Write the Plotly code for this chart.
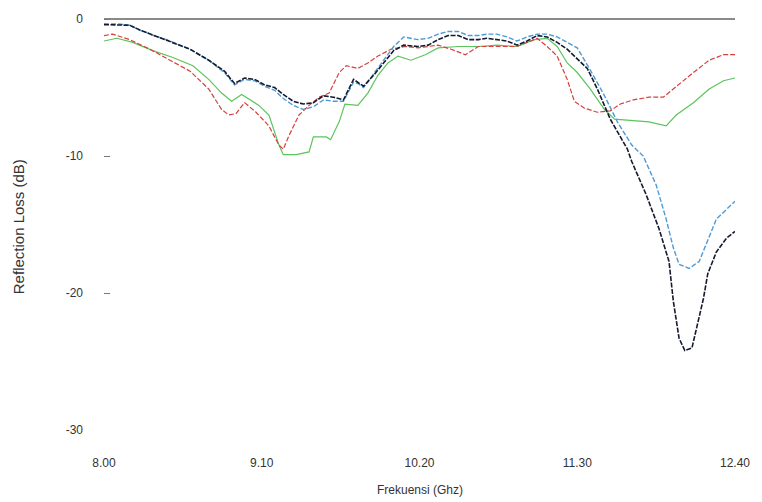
import plotly.graph_objects as go

# Frequency (GHz) / reflection loss (dB)
black_f = [8.00, 8.10, 8.18, 8.25, 8.35, 8.46, 8.60, 8.73, 8.84, 8.91, 8.98, 9.05, 9.12, 9.19, 9.25,
           9.32, 9.39, 9.46, 9.53, 9.60, 9.67, 9.74, 9.77, 9.81, 9.88, 9.95, 10.02, 10.09, 10.19, 10.26,
           10.33, 10.40, 10.47, 10.54, 10.61, 10.67, 10.74, 10.81, 10.88, 10.95, 11.02, 11.09, 11.16,
           11.23, 11.30, 11.37, 11.44, 11.53, 11.65, 11.68, 11.78, 11.87, 11.94, 11.97, 12.01, 12.05,
           12.10, 12.14, 12.18, 12.21, 12.27, 12.34, 12.40]
black_db = [-0.4, -0.4, -0.45, -0.8, -1.2, -1.6, -2.2, -3.0, -3.8, -4.7, -4.3, -4.4, -4.8, -5.0, -5.5,
            -6.0, -6.2, -6.1, -5.6, -5.7, -5.9, -4.4, -4.6, -4.9, -4.1, -3.2, -2.3, -1.9, -2.0, -1.9,
            -1.5, -1.2, -1.2, -1.5, -1.5, -1.4, -1.5, -1.6, -1.9, -1.6, -1.2, -1.3, -1.7,
            -2.2, -2.9, -3.6, -5.1, -7.3, -9.5, -10.4, -12.8, -15.3, -17.7, -20.6, -23.3, -24.2,
            -24.0, -22.2, -20.4, -18.6, -17.0, -16.0, -15.5]

blue_f = [8.00, 8.10, 8.18, 8.25, 8.35, 8.46, 8.60, 8.73, 8.84, 8.91, 8.98, 9.05, 9.12, 9.19, 9.25,
          9.32, 9.39, 9.46, 9.53, 9.60, 9.67, 9.74, 9.77, 9.81, 9.88, 9.95, 10.02, 10.09, 10.19, 10.26,
          10.33, 10.40, 10.47, 10.54, 10.61, 10.67, 10.74, 10.81, 10.88, 10.95, 11.02, 11.09, 11.16,
          11.23, 11.30, 11.39, 11.49, 11.58, 11.68, 11.76, 11.85, 11.92, 11.97, 12.01, 12.08, 12.15,
          12.21, 12.27, 12.34, 12.40]
blue_db = [-0.35, -0.35, -0.45, -0.8, -1.2, -1.6, -2.2, -3.0, -3.9, -4.8, -4.4, -4.5, -4.9, -5.2, -5.8,
           -6.3, -6.6, -6.4, -5.9, -6.0, -6.0, -4.6, -4.7, -5.0, -4.0, -3.0, -2.0, -1.3, -1.5, -1.4,
           -1.1, -0.9, -0.9, -1.2, -1.2, -1.1, -1.1, -1.3, -1.6, -1.3, -1.1, -1.1, -1.3,
           -1.7, -2.1, -3.7, -5.6, -7.5, -9.2, -10.0, -12.1, -14.6, -16.7, -17.9, -18.2, -17.7,
           -16.2, -14.6, -13.9, -13.3]

red_f = [8.00, 8.06, 8.18, 8.32, 8.46, 8.60, 8.73, 8.82, 8.87, 8.92, 8.98, 9.06, 9.15, 9.22, 9.25,
         9.29, 9.36, 9.43, 9.50, 9.57, 9.64, 9.69, 9.77, 9.84, 9.91, 10.00, 10.10, 10.19, 10.26, 10.33,
         10.42, 10.52, 10.61, 10.74, 10.88, 11.00, 11.02, 11.09, 11.16, 11.23, 11.28, 11.35, 11.44,
         11.53, 11.60, 11.69, 11.80, 11.90, 11.99, 12.11, 12.22, 12.32, 12.40]
red_db = [-1.2, -1.1, -1.5, -2.2, -3.0, -3.8, -5.1, -6.6, -7.0, -6.9, -6.1, -6.8, -7.8, -9.2, -9.5,
          -8.5, -7.0, -6.3, -5.7, -5.4, -3.9, -3.4, -3.6, -3.2, -2.7, -2.2, -2.0, -2.1, -2.0, -1.9,
          -2.2, -2.6, -2.0, -2.0, -2.0, -1.5, -1.4, -2.0, -2.7, -4.4, -6.0, -6.5, -6.8,
          -6.7, -6.2, -5.9, -5.7, -5.7, -4.9, -3.9, -3.0, -2.6, -2.6]

green_f = [8.00, 8.09, 8.20, 8.34, 8.48, 8.62, 8.73, 8.82, 8.89, 8.96, 9.08, 9.15, 9.22, 9.25, 9.34,
           9.43, 9.46, 9.55, 9.58, 9.64, 9.68, 9.77, 9.84, 9.91, 9.98, 10.05, 10.14, 10.24, 10.33,
           10.47, 10.61, 10.74, 10.88, 11.00, 11.09, 11.16, 11.23, 11.30, 11.39, 11.49, 11.56, 11.67,
           11.80, 11.92, 11.99, 12.11, 12.22, 12.32, 12.40]
green_db = [-1.6, -1.4, -1.7, -2.3, -2.8, -3.4, -4.4, -5.4, -6.0, -5.5, -6.3, -7.0, -9.2, -9.9, -9.9,
            -9.7, -8.6, -8.6, -8.8, -7.5, -6.2, -6.3, -5.4, -4.1, -3.2, -2.7, -3.0, -2.6, -2.1,
            -2.0, -2.0, -1.9, -2.0, -1.5, -1.4, -2.0, -3.2, -3.9, -5.1, -6.6, -7.3, -7.4,
            -7.5, -7.8, -7.0, -6.1, -5.1, -4.5, -4.3]

x_ticks = [8.00, 9.10, 10.20, 11.30, 12.40]
x_tick_text = ["8.00", "9.10", "10.20", "11.30", "12.40"]
y_ticks = [0, -10, -20, -30]
y_tick_text = ["0", "-10", "-20", "-30"]

fig = go.Figure()
fig.add_trace(go.Scatter(x=green_f, y=green_db, mode="lines",
                         line=dict(color="#5cc45c", width=1.2)))
fig.add_trace(go.Scatter(x=red_f, y=red_db, mode="lines",
                         line=dict(color="#d6413f", width=1.2, dash="5px,2px")))
fig.add_trace(go.Scatter(x=blue_f, y=blue_db, mode="lines",
                         line=dict(color="#4d9bd6", width=1.4, dash="5px,2px")))
fig.add_trace(go.Scatter(x=black_f, y=black_db, mode="lines",
                         line=dict(color="#151a2e", width=1.6, dash="5px,1.5px")))

font = dict(family="Liberation Sans, Arial, sans-serif", size=12, color="#333333")
ytitle_font = dict(family="Liberation Sans, Arial, sans-serif", size=15, color="#333333")

fig.update_layout(
    width=762, height=502,
    margin=dict(l=104, r=23, t=12, b=72),
    paper_bgcolor="white", plot_bgcolor="white",
    showlegend=False,
    font=font,
    xaxis=dict(range=[8.0, 12.4], tickvals=x_ticks, ticktext=x_tick_text,
               showgrid=False, zeroline=False, showline=False, ticks="",
               ticklabelstandoff=24, tickfont=font, fixedrange=True),
    yaxis=dict(range=[-30, 0.3], tickvals=y_ticks, ticktext=y_tick_text,
               showgrid=False, zeroline=True, zerolinecolor="#8a8a8a", zerolinewidth=2,
               showline=False, ticks="inside", ticklen=6, tickcolor="#777777",
               ticklabelstandoff=20, tickfont=font, fixedrange=True),
    annotations=[
        dict(text="Frekuensi (Ghz)", xref="paper", yref="paper", x=0.5, y=-0.1435,
             xanchor="center", yanchor="middle", showarrow=False, font=font),
        dict(text="Reflection Loss (dB)", xref="paper", yref="paper", x=-0.1354, y=0.49,
             xanchor="center", yanchor="middle", textangle=-90, showarrow=False,
             font=ytitle_font),
    ],
)

fig.write_html("out.html")
